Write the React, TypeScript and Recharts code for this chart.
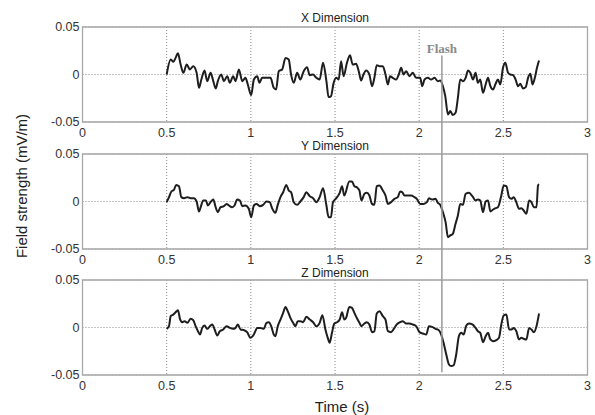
import React from 'react';
import { LineChart, Line, XAxis, YAxis, CartesianGrid, ReferenceLine, ReferenceArea } from 'recharts';

const TIME_TICKS = [0, 0.5, 1, 1.5, 2, 2.5, 3];
const FIELD_TICKS = [-0.05, 0, 0.05];
const PANEL_TITLES = ['X Dimension', 'Y Dimension', 'Z Dimension'];
const FLASH_TIME = 2.135;
const FLASH_LABEL = 'Flash';
const Y_LABEL = 'Field strength (mV/m)';
const X_LABEL = 'Time (s)';

const X_TIME = [0.5,0.524,0.54,0.553,0.567,0.583,0.599,0.619,0.638,0.658,0.678,0.692,0.706,0.725,0.741,0.761,0.777,0.791,0.804,0.824,0.84,0.86,0.875,0.895,0.909,0.929,0.949,0.968,0.982,1.002,1.018,1.038,1.051,1.067,1.087,1.117,1.136,1.15,1.166,1.186,1.206,1.225,1.239,1.255,1.275,1.294,1.314,1.334,1.35,1.37,1.389,1.409,1.429,1.449,1.462,1.476,1.492,1.508,1.522,1.536,1.551,1.571,
1.589,1.605,1.625,1.641,1.655,1.669,1.685,1.704,1.72,1.734,1.748,1.764,1.784,1.8,1.814,1.827,1.843,1.863,1.879,1.893,1.907,1.923,1.942,1.962,1.982,2.006,2.018,2.032,2.052,2.071,2.091,2.111,2.125,2.141,2.155,2.171,2.185,2.2,2.216,2.23,2.244,2.26,2.276,2.29,2.304,2.32,2.335,2.349,2.363,2.379,2.395,2.409,2.423,2.439,2.454,2.468,2.482,2.498,2.512,2.528,2.542,2.558,2.573,2.587,2.601,2.617,2.633,2.647,2.661,2.673,2.687,2.7,2.712];
const X_FIELD = [0,0.0158,0.0133,0.0175,0.0224,0.0105,0.0018,0.0105,0.0053,0.0088,0.0018,-0.014,-0.0053,0.0042,-0.007,0.0018,-0.007,-0.0147,-0.007,0,-0.007,-0.0018,-0.0088,-0.0018,-0.007,0.0053,-0.007,-0.0035,-0.0105,-0.0217,-0.0053,-0.0018,-0.0088,-0.0035,-0.0035,-0.0035,-0.014,-0.0158,0.0035,0.0053,0.0175,0.0158,0,-0.0088,0.0018,-0.0053,0.0035,0.0077,-0.0007,0,-0.0035,-0.0053,0.0123,-0.007,-0.0238,-0.0228,-0.0088,-0.0035,-0.0053,0.014,-0.0018,0.0123,
0.0203,0.0105,0.0112,0.0035,-0.0063,0,0.0042,0,-0.0123,-0.0035,0.0098,0.0088,0.0088,0,-0.0105,-0.0018,-0.0035,-0.0053,0,0.007,0,0.0035,-0.0018,0.0018,-0.0035,-0.0035,-0.0123,-0.0053,-0.0035,-0.0053,-0.0035,-0.007,-0.0063,-0.0123,-0.0228,-0.042,-0.0385,-0.0427,-0.0403,-0.0245,-0.0053,-0.007,-0.0035,0.0042,0.0018,-0.0053,0.0018,-0.0088,-0.0053,-0.0193,-0.0105,-0.0035,-0.0123,-0.0158,-0.0098,-0.0053,-0.0105,0.007,0.0123,0.0018,0,-0.0007,-0.0053,-0.0123,-0.0098,-0.0147,-0.0133,-0.0035,0.0007,-0.0105,-0.0035,0.007,0.0147];

const Y_TIME = [0.5,0.514,0.528,0.543,0.557,0.573,0.587,0.603,0.623,0.642,0.662,0.678,0.692,0.702,0.717,0.733,0.745,0.761,0.777,0.791,0.804,0.82,0.84,0.856,0.87,0.889,0.903,0.919,0.935,0.949,0.968,0.988,1.002,1.018,1.034,1.053,1.073,1.093,1.113,1.126,1.146,1.16,1.176,1.192,1.211,1.225,1.239,1.255,1.275,1.294,1.314,1.33,1.35,1.37,1.389,1.409,1.429,1.449,1.462,1.476,1.488,1.508,1.528,1.542,1.555,
1.585,1.601,1.615,1.629,1.645,1.657,1.675,1.689,1.704,1.72,1.734,1.748,1.764,1.784,1.8,1.814,1.833,1.853,1.873,1.887,1.899,1.913,1.933,1.952,1.972,1.986,2.006,2.026,2.046,2.058,2.077,2.097,2.111,2.125,2.141,2.157,2.171,2.185,2.2,2.216,2.23,2.244,2.26,2.276,2.296,2.316,2.335,2.349,2.363,2.379,2.395,2.409,2.423,2.439,2.454,2.468,2.488,2.502,2.518,2.534,2.548,2.562,2.577,2.593,2.607,2.621,2.637,2.653,2.667,2.681,2.697,2.706,2.712];
const Y_FIELD = [-0.0007,0.0046,0.0105,0.0123,0.0175,0.0161,0.0046,0.0035,0.0046,0.0035,0.0035,0,-0.0105,-0.006,0.0011,0.0011,-0.0042,-0.0007,0.0021,-0.006,-0.0112,-0.006,-0.0049,-0.0025,-0.0042,-0.006,-0.0042,0.0021,0.0011,-0.0049,-0.0042,-0.0077,-0.0165,-0.0042,-0.0025,-0.0049,-0.0035,0,-0.0007,-0.007,-0.0119,-0.0035,0.0046,0.0098,0.0175,0.0116,0.0098,-0.0007,-0.0035,0,0.0046,0.0098,0.0056,0.0035,-0.0007,0.0046,0.014,-0.0042,-0.0165,-0.0165,-0.0007,0.0035,0.0091,0.0161,0.0063,
0.021,0.021,0.0161,0.0151,0.0116,0.0011,0.0081,0.0091,0.0063,-0.0025,-0.0035,0.0161,0.0168,0.0116,0.0063,-0.0025,-0.0007,0.0028,0.0046,0.0105,0.0098,0.0063,0.0063,0.0063,0.0046,0.0028,-0.0025,-0.0025,-0.0007,0.0035,0.0021,0.0028,-0.0014,-0.0035,-0.0112,-0.0217,-0.0375,-0.0357,-0.034,-0.0235,-0.0147,-0.0025,-0.0035,0.0081,0.0091,0.0056,0.0011,0.0021,0.0011,-0.0112,0,0.0011,-0.0105,-0.0084,-0.007,-0.006,0.0063,0.0168,0.0161,0.0046,0.0028,0.0046,-0.0007,-0.0077,-0.007,-0.0095,-0.013,0.0011,-0.0007,-0.006,-0.006,0.0168,0.0182];

const Z_TIME = [0.5,0.514,0.524,0.54,0.553,0.567,0.579,0.593,0.607,0.623,0.642,0.658,0.672,0.686,0.698,0.711,0.725,0.741,0.757,0.771,0.785,0.8,0.816,0.836,0.856,0.875,0.895,0.909,0.923,0.939,0.959,0.978,0.998,1.018,1.038,1.057,1.077,1.093,1.107,1.121,1.136,1.146,1.16,1.176,1.192,1.206,1.219,1.235,1.251,1.265,1.279,1.294,1.31,1.33,1.35,1.37,1.389,1.409,1.425,1.443,1.457,1.468,1.482,1.496,1.512,1.528,1.542,1.555,
1.566,1.585,1.601,1.615,1.629,1.645,1.657,1.675,1.689,1.704,1.72,1.734,1.748,1.764,1.784,1.8,1.814,1.833,1.853,1.867,1.887,1.903,1.923,1.942,1.962,1.982,2.002,2.022,2.042,2.058,2.077,2.097,2.117,2.131,2.145,2.161,2.177,2.19,2.204,2.22,2.236,2.25,2.264,2.28,2.296,2.316,2.335,2.349,2.363,2.379,2.395,2.409,2.423,2.439,2.458,2.474,2.488,2.502,2.518,2.534,2.548,2.562,2.577,2.593,2.607,2.621,2.637,2.653,2.667,2.681,2.697,2.712];
const Z_FIELD = [-0.0014,0.0014,0.0119,0.0137,0.0161,0.0182,0.0091,0.0056,0.0067,0.0049,0.0091,0.0077,0.0014,-0.0039,-0.0074,-0.0004,0.0021,-0.0014,0.0014,0.0032,-0.0021,-0.0084,-0.0039,-0.0021,0.0014,-0.0004,-0.0014,-0.0004,0.0032,-0.0021,-0.0028,-0.0049,-0.0109,-0.0074,-0.0004,-0.0004,-0.0014,0.0049,0.0056,0.0014,-0.0074,-0.0091,0.0014,0.0084,0.0154,0.0217,0.0172,0.0102,0.0049,0.0014,0.0067,0.0067,0.0056,0.0112,0.0084,0.0056,0.0014,0.0049,0.013,-0.0021,-0.0109,-0.0161,-0.0056,0.0042,0.0056,0.0084,0.0161,0.0084,
0.0102,0.0217,0.0207,0.0154,0.0102,0.0049,0.0014,0.0042,0.0056,0.0032,-0.0049,-0.0039,0.0147,0.0172,0.0119,0.0084,-0.0039,-0.0049,-0.0004,0.0032,0.0056,0.0067,0.0042,0.0042,0.0032,0.0014,-0.0049,-0.0063,-0.0074,0.0014,0.0007,-0.0014,-0.0028,-0.0074,-0.0161,-0.0284,-0.0389,-0.0406,-0.0399,-0.0284,-0.0091,-0.0056,-0.0074,0.0021,0.0042,0.0032,-0.0004,-0.0039,-0.0056,-0.0154,-0.0091,-0.0056,-0.0126,-0.0144,-0.0133,-0.0109,0.0032,0.0126,0.0137,-0.0021,-0.0021,-0.0004,-0.0039,-0.0126,-0.0109,-0.0119,-0.0126,-0.0004,-0.0021,-0.0049,0.0014,0.0147];

// flash line extent per panel (field units), extends across the gap below panels 1 and 2
const FLASH_SPANS: [number, number][] = [[0.02, -0.084], [0.05, -0.084], [0.05, -0.047]];

const SANS = '"Liberation Sans", Arial, sans-serif';
const SERIF = '"Liberation Serif", "Times New Roman", serif';

function toRows(time: number[], field: number[]) {
  const n = Math.min(time.length, field.length);
  const rows: { t: number; v: number }[] = [];
  for (let i = 0; i < n; i++) rows.push({ t: time[i], v: field[i] });
  return rows;
}

const PANELS = [
  { rows: toRows(X_TIME, X_FIELD), chartTop: 7 },
  { rows: toRows(Y_TIME, Y_FIELD), chartTop: 134 },
  { rows: toRows(Z_TIME, Z_FIELD), chartTop: 260 },
];

const tickStyle = { fontSize: 12.5, fill: '#333', fontFamily: SANS };

function Panel({ rows, idx }: { rows: { t: number; v: number }[]; idx: number }) {
  const [fTop, fBottom] = FLASH_SPANS[idx];
  return (
    <LineChart width={595} height={147} data={rows} margin={{ top: 20, right: 7.5, bottom: 12, left: 7.5 }}>
      <CartesianGrid strokeDasharray="1 2" stroke="#8a8a8a" strokeWidth={1} />
      <XAxis
        dataKey="t"
        type="number"
        domain={[0, 3]}
        ticks={TIME_TICKS}
        interval={0}
        height={20}
        tickSize={0}
        tickMargin={6}
        axisLine={false}
        tickLine={false}
        tick={tickStyle}
        allowDataOverflow
      />
      <YAxis
        type="number"
        domain={[-0.05, 0.05]}
        ticks={FIELD_TICKS}
        interval={0}
        width={75}
        tickSize={0}
        tickMargin={3}
        axisLine={false}
        tickLine={false}
        tick={tickStyle}
        tickFormatter={(v: number) => String(v)}
        allowDataOverflow
      />
      <ReferenceArea x1={0} x2={3} y1={-0.05} y2={0.05} fill="none" stroke="#a8a8a8" strokeWidth={1.3} ifOverflow="visible" />
      <Line dataKey="v" type="monotone" stroke="#1e1e1e" strokeWidth={2} dot={false} isAnimationActive={false} />
      <ReferenceLine
        segment={[{ x: FLASH_TIME, y: fTop }, { x: FLASH_TIME, y: fBottom }]}
        stroke="#9a9a9a"
        strokeWidth={1.5}
        ifOverflow="visible"
        label={idx === 0 ? { value: FLASH_LABEL, position: 'top', offset: 3, fill: '#8a8a8a', fontSize: 13, fontWeight: 'bold', fontFamily: SERIF } : undefined}
      />
    </LineChart>
  );
}

const TITLE_CENTERS = [17.5, 145.5, 272.5];

export default function App() {
  return (
    <div style={{ position: 'absolute', left: 0, top: 0, width: 595, height: 415, background: '#fff', overflow: 'hidden', fontFamily: SANS }}>
      {PANELS.map((p, i) => (
        <div key={i} style={{ position: 'absolute', left: 0, top: p.chartTop }}>
          <Panel rows={p.rows} idx={i} />
        </div>
      ))}
      {PANEL_TITLES.map((t, i) => (
        <div
          key={t}
          style={{ position: 'absolute', left: 335, top: TITLE_CENTERS[i], transform: 'translate(-50%, -50%)', fontSize: 12, lineHeight: 1, color: '#222', whiteSpace: 'nowrap' }}
        >
          {t}
        </div>
      ))}
      <div style={{ position: 'absolute', left: 21, top: 186, transform: 'translate(-50%, -50%) rotate(-90deg)', fontSize: 15, lineHeight: 1, color: '#222', whiteSpace: 'nowrap' }}>
        {Y_LABEL}
      </div>
      <div style={{ position: 'absolute', left: 342, top: 406, transform: 'translate(-50%, -50%)', fontSize: 15, lineHeight: 1, color: '#222', whiteSpace: 'nowrap' }}>
        {X_LABEL}
      </div>
    </div>
  );
}
